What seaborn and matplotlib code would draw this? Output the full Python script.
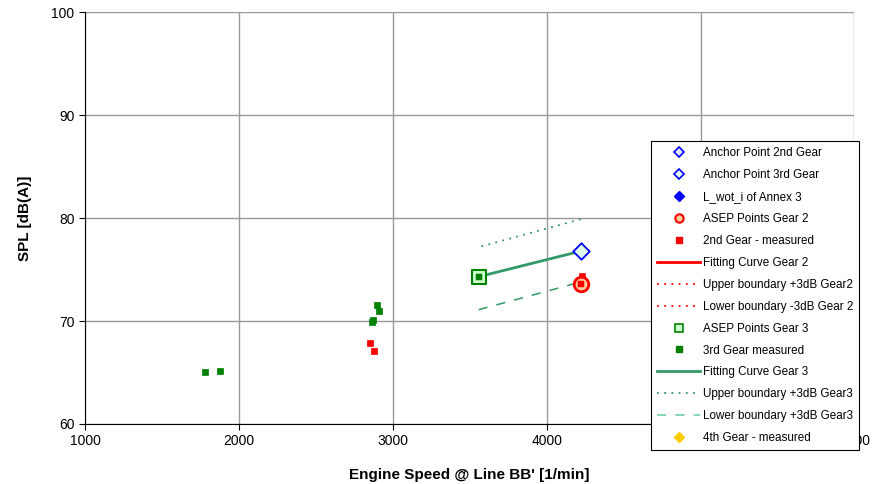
import numpy as np
import pandas as pd
import matplotlib
matplotlib.use('Agg')
import matplotlib.pyplot as plt
from matplotlib.lines import Line2D
import seaborn as sns

## ============================ data

gear2_meas_x = [2851, 2875, 4230, 4225, 4235, 4228]
gear2_meas_y = [67.9, 67.1, 74.4, 74.0, 73.5, 73.2]

gear3_meas_x = [1779, 1877, 2863, 2872, 2909, 2900]
gear3_meas_y = [65.0, 65.1, 69.9, 70.1, 71.0, 71.6]

asep2_x = [4225]
asep2_y = [73.6]
asep3_x = [3558]
asep3_y = [74.3]

anchor3_x = [4225]
anchor3_y = [76.8]

fit3_x = [3558, 4225]
fit3_y = [74.3, 76.8]
upper3_x = [3576, 4225]
upper3_y = [77.25, 79.9]
lower3_x = [3558, 4225]
lower3_y = [71.1, 73.8]

labels = ['Anchor Point 2nd Gear', 'Anchor Point 3rd Gear', 'L_wot_i of Annex 3',
		  'ASEP Points Gear 2', '2nd Gear - measured', 'Fitting Curve Gear 2',
		  'Upper boundary +3dB Gear2', 'Lower boundary -3dB Gear 2', 'ASEP Points Gear 3',
		  '3rd Gear measured', 'Fitting Curve Gear 3', 'Upper boundary +3dB Gear3',
		  'Lower boundary +3dB Gear3', '4th Gear - measured']

## ============================

plt.rcParams['font.family'] = ['Liberation Sans', 'DejaVu Sans']

fig, ax = plt.subplots(figsize=(8.9, 4.84), dpi=100)
fig.subplots_adjust(left=0.0955, right=0.96, bottom=0.124, top=0.975)

c_fit3 = '#339966'
c_low3 = '#66cc99'

# lines of gear 3
sns.lineplot(x=fit3_x, y=fit3_y, ax=ax, color=c_fit3, lw=2, zorder=3)
sns.lineplot(x=upper3_x, y=upper3_y, ax=ax, color=c_fit3, lw=1.3, ls=(0, (1, 3)), zorder=3)
sns.lineplot(x=lower3_x, y=lower3_y, ax=ax, color=c_fit3, lw=1.1, ls=(0, (6, 6)), zorder=3)

sns.scatterplot(x=gear3_meas_x, y=gear3_meas_y, ax=ax, color='#008000', marker='s', s=18,
				edgecolor='#008000', linewidth=0.5, zorder=4)
sns.scatterplot(x=gear2_meas_x, y=gear2_meas_y, ax=ax, color='red', marker='s', s=18,
				edgecolor='red', linewidth=0.5, zorder=4)
sns.scatterplot(x=asep2_x, y=asep2_y, ax=ax, color='#ffcc99', marker='o', s=110,
				edgecolor='red', linewidth=2, zorder=5)
sns.scatterplot(x=asep2_x, y=asep2_y, ax=ax, color='red', marker='s', s=18, edgecolor='red', zorder=6)
sns.scatterplot(x=asep3_x, y=asep3_y, ax=ax, color='#ccffcc', marker='s', s=110,
				edgecolor='#008000', linewidth=1.5, zorder=5)
sns.scatterplot(x=asep3_x, y=asep3_y, ax=ax, color='#008000', marker='s', s=20,
				edgecolor='#008000', zorder=6)
sns.scatterplot(x=anchor3_x, y=anchor3_y, ax=ax, color='#e0ffe8', marker='D', s=70,
				edgecolor='blue', linewidth=1.3, zorder=6)

# legend handles
handles = [
	Line2D([], [], ls='none', marker='D', ms=5, mfc='#e0e8ff', mec='blue', mew=1.2),
	Line2D([], [], ls='none', marker='D', ms=5, mfc='#e0ffe8', mec='blue', mew=1.2),
	Line2D([], [], ls='none', marker='D', ms=5, mfc='blue', mec='blue'),
	Line2D([], [], ls='none', marker='o', ms=6, mfc='#ffcc99', mec='red', mew=1.5),
	Line2D([], [], ls='none', marker='s', ms=4, mfc='red', mec='red'),
	Line2D([], [], color='red', lw=2),
	Line2D([], [], color='red', lw=1.3, ls=(0, (1, 3))),
	Line2D([], [], color='red', lw=1.3, ls=(0, (1, 3))),
	Line2D([], [], ls='none', marker='s', ms=6, mfc='#ccffcc', mec='#008000', mew=1.2),
	Line2D([], [], ls='none', marker='s', ms=4, mfc='#008000', mec='#008000'),
	Line2D([], [], color=c_fit3, lw=2),
	Line2D([], [], color=c_fit3, lw=1.3, ls=(0, (1, 3))),
	Line2D([], [], color=c_low3, lw=1.1, ls=(0, (6, 6))),
	Line2D([], [], ls='none', marker='D', ms=5, mfc='#ffcc00', mec='#ffcc00'),
]

leg = ax.legend(handles, labels, loc='upper left', bbox_to_anchor=(0.736, 0.686),
				fontsize=8.4, frameon=True, fancybox=False, edgecolor='black',
				framealpha=1, facecolor='white',
				handlelength=3.7, handletextpad=0.2, labelspacing=0.85,
				borderpad=0.5, borderaxespad=0)
leg.get_frame().set_linewidth(0.8)
leg.set_zorder(10)

ax.set_xlim(1000, 6000)
ax.set_ylim(60, 100)
ax.set_xticks(np.arange(1000, 6001, 1000))
ax.set_yticks(np.arange(60, 101, 10))
ax.grid(True, color='#999999', lw=1)
ax.set_axisbelow(True)
for s in ['top', 'right']:
	ax.spines[s].set_visible(False)
ax.spines['left'].set_color('black')
ax.spines['bottom'].set_color('black')
ax.tick_params(axis='both', direction='out', length=4, labelsize=10)
ax.set_xlabel("Engine Speed @ Line BB' [1/min]", fontsize=11, fontweight='bold', labelpad=14)
ax.set_ylabel('SPL [dB(A)]', fontsize=11, fontweight='bold', labelpad=14)

fig.savefig('out.png', dpi=100)
